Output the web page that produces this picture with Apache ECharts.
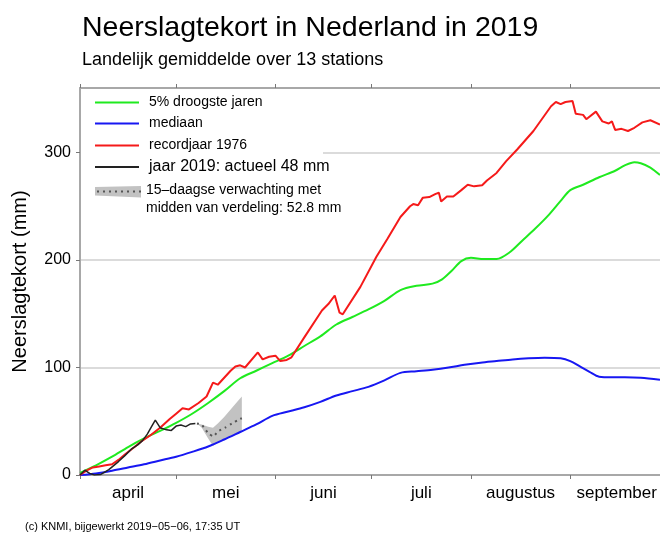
<!DOCTYPE html>
<html>
<head>
<meta charset="utf-8">
<script src="https://cdn.jsdelivr.net/npm/echarts@6.0.0/dist/echarts.min.js"></script>
<style>
  html, body { margin: 0; padding: 0; background: #fff; }
  #chart { width: 660px; height: 533px; }
</style>
</head>
<body>
<div id="chart"></div>
<script>
// x = days since 1 April 2019
const monthStarts = [0, 30, 61, 91, 122, 153];
const monthMids = [15, 45.5, 76, 106.5, 137.5, 167.5];
const monthNames = ['april', 'mei', 'juni', 'juli', 'augustus', 'september'];
const yTicks = [0, 100, 200, 300];

// 5% droogste jaren
const greenDays = [0, 5, 10, 15, 20, 25, 30, 35, 40, 45, 50, 55, 60, 65, 70, 75, 80, 85, 90, 95, 100, 105, 110, 113, 116, 119, 122, 126, 130, 134, 138, 142, 146, 150, 153, 157, 162, 167, 170, 173, 175, 178, 181];
const greenVals = [2, 9, 17, 26, 34, 41, 48.5, 57, 67, 78, 90, 97, 104, 111, 120, 129, 140, 147, 154, 162, 172, 176, 178, 182, 190, 199, 202, 201, 201, 207, 218, 229, 241, 255, 265, 270, 277, 283, 288, 291, 290, 286, 279];

// mediaan
const blueDays = [0, 5, 10, 15, 20, 25, 30, 35, 40, 45, 50, 55, 60, 65, 70, 75, 80, 85, 90, 95, 100, 105, 110, 115, 120, 125, 130, 135, 140, 145, 150, 153, 156, 159, 162, 166, 170, 175, 181];
const blueVals = [0, 1.5, 4, 7, 10, 13.5, 17, 21.5, 26.5, 33, 40, 47, 55, 59, 63, 68, 74, 78, 82, 88, 95, 96.5, 98, 100, 102.5, 104.5, 106, 107.5, 108.5, 109, 108.5, 106, 101, 96, 91.5, 91, 91, 90.5, 88.5];

// recordjaar 1976
const redDays = [0, 2, 4, 6, 8, 10, 12, 14, 17, 19, 22, 25, 28, 30, 32, 34, 37, 39.5, 41.5, 43, 47, 48.5, 50, 51.5, 55.5, 57, 59, 61, 62.5, 64.5, 66, 70, 75.5, 77.5, 79.5, 81, 82, 87.5, 92.5, 96, 100, 103, 104, 105.5, 107, 109, 111, 112, 112.7, 114.5, 116.5, 119, 121, 123, 125.5, 127, 130, 133, 136.5, 141.5, 147, 148.5, 150, 151.5, 153.7, 154.7, 157, 158, 161, 163, 165, 166, 167, 169, 171, 173, 175.5, 178, 181];
const redVals = [0, 4, 7, 8, 9, 10, 14, 19, 26, 31, 37, 44, 52, 57, 62, 61, 67, 73, 86, 84, 97, 101, 102, 100, 114, 107.5, 110, 111, 106, 107, 109.5, 128, 153, 159, 167, 151, 149.5, 175, 203, 220, 240, 250, 252, 251, 258, 258.5, 261.5, 262.5, 254.5, 259, 259, 265, 270, 268.5, 269.5, 274, 281, 292, 303, 320, 343, 347, 345, 347, 348, 336, 335, 331, 338, 329, 327, 329, 321, 322, 320, 323, 328, 330, 326];

// jaar 2019
const blackDays = [0, 1.5, 3, 4.5, 6.5, 9, 12, 14, 16, 18, 19.5, 21, 22.5, 23.5, 25, 27, 28.5, 30, 31.5, 33, 34.5, 36];
const blackVals = [0, 4.5, 1.5, 0, 0.5, 5, 12.5, 18, 24, 28, 32, 38, 46, 51, 44, 42, 41.5, 45.5, 46.5, 45, 47.5, 48];

// 15-daagse verwachting
const fcDays = [36.5, 38, 40, 41.5, 43, 45, 47, 49, 50.5];
const fcLow = [48, 44, 34, 27, 30, 33, 36, 39, 41];
const fcHigh = [48, 47, 45, 44, 48, 54, 61, 68, 73];
const fcMidDays = [36.5, 38, 40, 41.6, 43, 45.3, 47.4, 49.5, 50.5];
const fcMidVals = [48, 46.7, 39, 36, 40.5, 44, 48, 51.4, 52.8];

const FONT = 'Liberation Sans, Arial, sans-serif';
const GREEN = '#1fea1f', BLUE = '#1717f2', RED = '#f51a1a', BLACK = '#222', GREY = '#c2c2c2';

const pairs = (xs, ys) => xs.map((x, i) => [x, ys[i]]);

const chart = echarts.init(document.getElementById('chart'), null, {renderer: 'canvas'});

const axisGrey = '#a8a8a8';
const xAxisBase = {
  type: 'value', min: 0, max: 181,
  axisLine: {show: true, lineStyle: {color: axisGrey, width: 2}},
  axisTick: {show: true, customValues: monthStarts, length: 4, lineStyle: {color: '#777', width: 1}},
  splitLine: {show: false}
};

const legendItems = [
  {text: '5% droogste jaren', color: GREEN, y: 102.5, size: 14},
  {text: 'mediaan', color: BLUE, y: 123.5, size: 14},
  {text: 'recordjaar 1976', color: RED, y: 145.5, size: 14},
  {text: 'jaar 2019: actueel 48 mm', color: BLACK, y: 167, size: 16}
];

const legendGraphics = [
  {type: 'rect', z: 99, shape: {x: 81, y: 89, width: 242, height: 132}, style: {fill: '#fff'}}
];
legendItems.forEach(it => {
  legendGraphics.push({type: 'line', z: 100, shape: {x1: 95, y1: it.y, x2: 139, y2: it.y}, style: {stroke: it.color, lineWidth: 2}});
  legendGraphics.push({type: 'text', z: 100, x: 149, y: it.y, style: {text: it.text, font: it.size + 'px ' + FONT, fill: '#000', verticalAlign: 'middle'}});
});
legendGraphics.push(
  {type: 'polygon', z: 100, shape: {points: [[95, 187], [141, 186], [141, 197.5], [95, 195.5]]}, style: {fill: GREY}},
  {type: 'line', z: 101, shape: {x1: 97, y1: 191.5, x2: 141, y2: 191.5}, style: {stroke: '#555', lineWidth: 2, lineDash: [2, 4]}},
  {type: 'text', z: 100, x: 146, y: 190, style: {text: '15–daagse verwachting met', font: '14px ' + FONT, fill: '#000', verticalAlign: 'middle'}},
  {type: 'text', z: 100, x: 146, y: 208, style: {text: 'midden van verdeling: 52.8 mm', font: '14px ' + FONT, fill: '#000', verticalAlign: 'middle'}},
  {type: 'text', z: 100, x: 25, y: 527, style: {text: '(c) KNMI, bijgewerkt 2019−05−06, 17:35 UT', font: '11px ' + FONT, fill: '#000', verticalAlign: 'middle'}}
);

// forecast band drawn as one polygon through the axis scales
function renderBand(params, api) {
  if (params.dataIndex !== 0) return null;
  const upper = fcDays.map((d, i) => api.coord([d, fcHigh[i]]));
  const lower = fcDays.map((d, i) => api.coord([d, fcLow[i]])).reverse();
  return {
    type: 'polygon',
    shape: {points: upper.concat(lower)},
    style: {fill: GREY}
  };
}

chart.setOption({
  animation: false,
  backgroundColor: '#fff',
  textStyle: {fontFamily: FONT},
  title: {
    text: 'Neerslagtekort in Nederland in 2019',
    subtext: 'Landelijk gemiddelde over 13 stations',
    left: 77, top: 9, itemGap: 8,
    textStyle: {fontSize: 28.5, fontWeight: 'normal', color: '#000', fontFamily: FONT},
    subtextStyle: {fontSize: 18, color: '#000', fontFamily: FONT}
  },
  grid: {left: 80, right: 0, top: 88, bottom: 58},
  xAxis: [
    Object.assign({}, xAxisBase, {
      position: 'bottom',
      axisLabel: {
        customValues: monthMids, margin: 10, fontSize: 17, color: '#000',
        formatter: v => monthNames[monthMids.indexOf(v)] || ''
      }
    }),
    Object.assign({}, xAxisBase, {position: 'top', axisLabel: {show: false}})
  ],
  yAxis: {
    type: 'value', min: 0, max: 360, interval: 100,
    name: 'Neerslagtekort (mm)', nameLocation: 'middle', nameGap: 50,
    nameTextStyle: {fontSize: 20, color: '#000'},
    axisLine: {show: true, lineStyle: {color: axisGrey, width: 2}},
    axisTick: {show: true, customValues: yTicks, length: 4, lineStyle: {color: '#777'}},
    axisLabel: {customValues: yTicks, margin: 9, fontSize: 16, color: '#000'},
    splitLine: {show: true, lineStyle: {color: '#cfcfcf', width: 1.5}}
  },
  graphic: legendGraphics,
  series: [
    {type: 'custom', name: 'band', data: pairs(fcDays, fcHigh), renderItem: renderBand, z: 1},
    {name: '5% droogste jaren', type: 'line', data: pairs(greenDays, greenVals), symbol: 'none', smooth: 0.3, lineStyle: {color: GREEN, width: 2}, z: 3},
    {name: 'mediaan', type: 'line', data: pairs(blueDays, blueVals), symbol: 'none', smooth: 0.3, lineStyle: {color: BLUE, width: 2}, z: 3},
    {name: 'recordjaar 1976', type: 'line', data: pairs(redDays, redVals), symbol: 'none', lineStyle: {color: RED, width: 2}, z: 4},
    {name: 'jaar 2019', type: 'line', data: pairs(blackDays, blackVals), symbol: 'none', lineStyle: {color: BLACK, width: 1.5}, z: 5},
    {name: 'verwachting', type: 'line', data: pairs(fcMidDays, fcMidVals), symbol: 'none', smooth: 0.2, lineStyle: {color: '#555', width: 2, type: [2, 4]}, z: 6}
  ]
});
</script>
</body>
</html>
